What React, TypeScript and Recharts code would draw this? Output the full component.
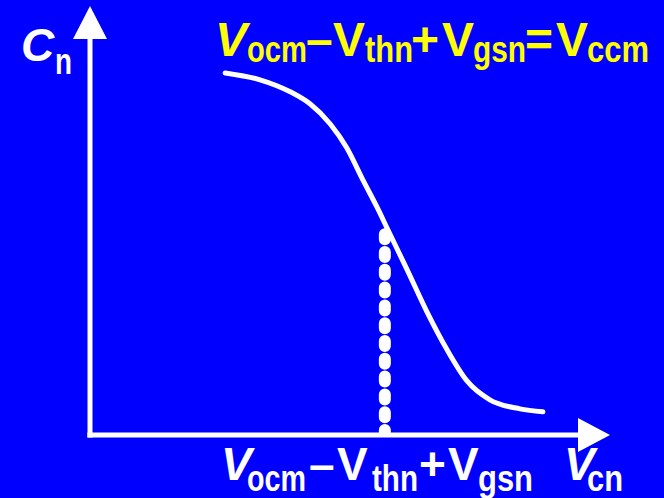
import { Line, LineChart, ReferenceDot, ReferenceLine, XAxis, YAxis } from "recharts";

// Cn vs Vcn (axis units 0..10)
const curveX = [2.6, 3.27, 3.85, 4.23, 4.62, 4.94, 5.25, 5.52, 5.71, 6.1, 6.48, 6.87, 7.25, 7.69, 8.27, 8.71];
const curveY = [8.44, 8.28, 8.0, 7.72, 7.25, 6.69, 5.94, 5.31, 4.83, 3.85, 2.87, 1.98, 1.26, 0.82, 0.61, 0.54];
const markerX = 5.67;
const markerTop = 4.73;
const axisMax = 10;

const curve = curveX.map((x, i) => ({ x, y: curveY[i] }));
const marker = [
  { x: markerX, y: 0 },
  { x: markerX, y: markerTop },
];

const BLUE = "#0000FF";
const WHITE = "#FFFFFF";
const YELLOW = "#FFFF00";
const FONT = "'Liberation Sans', Arial, sans-serif";

type Seg = { t: string; x: number; sub?: boolean; italic?: boolean; len?: number };

const title: Seg[] = [
  { t: "V", x: 215, italic: true },
  { t: "ocm", x: 247, sub: true, len: 60 },
  { t: "–", x: 306 },
  { t: "V", x: 333 },
  { t: "thn", x: 365, sub: true, len: 48 },
  { t: "+", x: 411 },
  { t: "V", x: 442 },
  { t: "gsn", x: 473, sub: true, len: 53 },
  { t: "=", x: 525 },
  { t: "V", x: 556 },
  { t: "ccm", x: 587, sub: true, len: 62 },
];

const xLabel: Seg[] = [
  { t: "V", x: 221, italic: true },
  { t: "ocm", x: 247, sub: true, len: 59 },
  { t: "–", x: 309 },
  { t: "V", x: 337 },
  { t: "thn", x: 372, sub: true, len: 46 },
  { t: "+", x: 419 },
  { t: "V", x: 448 },
  { t: "gsn", x: 478, sub: true, len: 55 },
  { t: "V", x: 564, italic: true },
  { t: "cn", x: 587, sub: true, len: 36 },
];

const yLabel: Seg[] = [
  { t: "C", x: 21, italic: true },
  { t: "n", x: 55, sub: true, len: 17 },
];

function Text({ segs, base, subBase, fill, main = 46, small = 36 }: {
  segs: Seg[]; base: number; subBase: number; fill: string; main?: number; small?: number;
}) {
  return (
    <g fill={fill} fontFamily={FONT} fontWeight="bold">
      {segs.map((s, i) => (
        <text
          key={i}
          x={s.x}
          y={s.sub ? subBase : base}
          fontSize={s.sub ? small : main}
          fontStyle={s.italic ? "italic" : "normal"}
          textLength={s.len}
          lengthAdjust={s.len ? "spacingAndGlyphs" : undefined}
        >
          {s.t}
        </text>
      ))}
    </g>
  );
}

const upArrow = (p: any) => (
  <polygon points={`${p.cx},${p.cy} ${p.cx - 17},${p.cy + 33} ${p.cx + 17},${p.cy + 33}`} fill={WHITE} />
);
const rightArrow = (p: any) => (
  <polygon points={`${p.cx},${p.cy} ${p.cx - 32},${p.cy - 17} ${p.cx - 32},${p.cy + 17}`} fill={WHITE} />
);

export default function App() {
  return (
    <div style={{ position: "absolute", left: 0, top: 0, width: 664, height: 498, background: BLUE, overflow: "hidden" }}>
      <LineChart width={664} height={498} margin={{ top: 6, right: 54, bottom: 63, left: 90 }}>
        <XAxis type="number" dataKey="x" domain={[0, axisMax]} hide allowDataOverflow />
        <YAxis type="number" dataKey="y" domain={[0, axisMax]} hide allowDataOverflow />
        <ReferenceLine
          segment={[{ x: 0, y: -0.06 }, { x: 0, y: 9.3 }]}
          stroke={WHITE}
          strokeWidth={5}
          ifOverflow="visible"
        />
        <ReferenceLine
          segment={[{ x: -0.05, y: 0 }, { x: 9.5, y: 0 }]}
          stroke={WHITE}
          strokeWidth={5}
          ifOverflow="visible"
        />
        <ReferenceDot x={0} y={axisMax} r={1} shape={upArrow} ifOverflow="visible" />
        <ReferenceDot x={axisMax} y={0} r={1} shape={rightArrow} ifOverflow="visible" />
        <Line
          data={marker}
          dataKey="y"
          type="linear"
          stroke={WHITE}
          strokeWidth={12}
          strokeDasharray="5 12.8"
          strokeLinecap="round"
          dot={false}
          isAnimationActive={false}
        />
        <Line
          data={curve}
          dataKey="y"
          type="monotone"
          stroke={WHITE}
          strokeWidth={5}
          strokeLinecap="round"
          dot={false}
          isAnimationActive={false}
        />
      </LineChart>
      <svg width={664} height={498} style={{ position: "absolute", left: 0, top: 0, pointerEvents: "none" }}>
        <Text segs={title} base={56} subBase={62} fill={YELLOW} main={48} />
        <Text segs={xLabel} base={480} subBase={491} fill={WHITE} />
        <Text segs={yLabel} base={61} subBase={74} fill={WHITE} />
      </svg>
    </div>
  );
}
